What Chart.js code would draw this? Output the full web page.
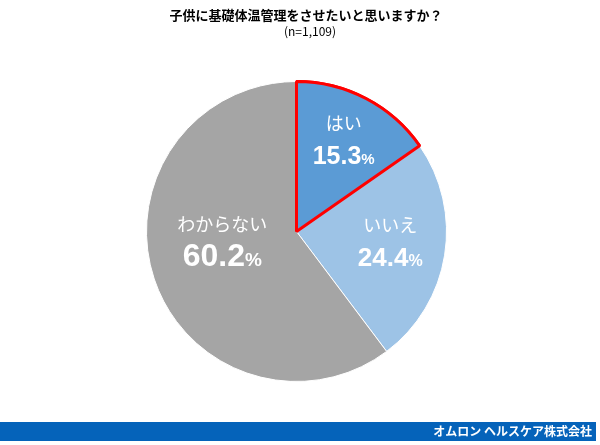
<!DOCTYPE html>
<html>
<head>
<meta charset="utf-8">
<script src="https://cdn.jsdelivr.net/npm/chart.js@4"></script>
<style>
  html, body { margin: 0; padding: 0; background: #fff; }
  #wrap { width: 600px; height: 445px; }
</style>
</head>
<body>
<div id="wrap"><canvas id="myChart" width="600" height="445"></canvas></div>
<script>
// chart data
const categories = ['はい', 'いいえ', 'わからない'];
const shares = [15.3, 24.4, 60.2];
const sliceColors = ['#5B9BD5', '#9DC3E6', '#A5A5A5'];
const titleText = '子供に基礎体温管理をさせたいと思いますか？';
const subtitleText = '(n=1,109)';
const footerText = 'オムロン ヘルスケア株式会社';

// label placement along each slice (fraction of radius, angle nudge in degrees)
const labelRadius = [0.68, 0.63, 0.5];
const labelNudge = [0, -2, 10];
const numberSize = [25, 26, 32];

const jpFont = '"Noto Sans CJK JP", "Noto Sans", sans-serif';
const numFont = '"Liberation Sans", Arial, sans-serif';

// titles, footer bar and slice labels
const decorPlugin = {
    id: 'decor',
    beforeDraw(chart) {
        const ctx = chart.ctx;
        ctx.save();
        ctx.fillStyle = '#fff';
        ctx.fillRect(0, 0, chart.width, chart.height);
        ctx.fillStyle = '#000';
        ctx.textAlign = 'center';
        ctx.textBaseline = 'middle';
        ctx.font = 'bold 13px ' + jpFont;
        ctx.fillText(titleText, 306, 15);
        ctx.font = '12px ' + jpFont;
        ctx.fillText(subtitleText, 310, 31);

        // footer bar
        ctx.fillStyle = '#0563BA';
        ctx.fillRect(0, 422, 596, 19);
        ctx.fillStyle = '#fff';
        ctx.textAlign = 'right';
        ctx.textBaseline = 'alphabetic';
        ctx.font = 'bold 12px ' + jpFont;
        ctx.fillText(footerText, 592, 436);
        ctx.restore();
    },
    afterDatasetsDraw(chart) {
        const ctx = chart.ctx;
        const meta = chart.getDatasetMeta(0);
        // redraw the first slice so its red outline sits on top
        meta.data[0].draw(ctx);

        ctx.save();
        ctx.fillStyle = '#fff';
        meta.data.forEach(function (arc, i) {
            const p = arc.getProps(['x', 'y', 'startAngle', 'endAngle', 'outerRadius'], true);
            const mid = (p.startAngle + p.endAngle) / 2 + labelNudge[i] * Math.PI / 180;
            const r = p.outerRadius * labelRadius[i];
            const cx = p.x + Math.cos(mid) * r;
            const cy = p.y + Math.sin(mid) * r;

            ctx.textAlign = 'center';
            ctx.textBaseline = 'middle';
            ctx.font = '18px ' + jpFont;
            ctx.fillText(categories[i], cx, cy - 18);

            // number plus smaller percent sign
            const num = shares[i].toFixed(1);
            const nSize = numberSize[i];
            const pSize = Math.round(nSize * 0.6);
            ctx.font = 'bold ' + nSize + 'px ' + numFont;
            const wNum = ctx.measureText(num).width;
            ctx.font = 'bold ' + pSize + 'px ' + numFont;
            const wPct = ctx.measureText('%').width;
            let x0 = cx - (wNum + wPct) / 2;
            const base = cy + 23;
            ctx.textAlign = 'left';
            ctx.textBaseline = 'alphabetic';
            ctx.font = 'bold ' + nSize + 'px ' + numFont;
            ctx.fillText(num, x0, base);
            ctx.font = 'bold ' + pSize + 'px ' + numFont;
            ctx.fillText('%', x0 + wNum, base);
        });
        ctx.restore();
    }
};

const ctx = document.getElementById('myChart').getContext('2d');
const chart = new Chart(ctx, {
    type: 'pie',
    data: {
        labels: categories,
        datasets: [{
            data: shares,
            backgroundColor: sliceColors,
            borderColor: ['#FF0000', '#FFFFFF', '#FFFFFF'],
            borderWidth: [3, 1, 1],
            hoverOffset: 0,
            hoverBorderWidth: [3, 1, 1]
        }]
    },
    options: {
        responsive: false,
        animation: false,
        layout: {
            padding: { left: 145, top: 80, right: 152, bottom: 62 }
        },
        plugins: {
            legend: { display: false },
            tooltip: { enabled: false },
            title: { display: false }
        }
    },
    plugins: [decorPlugin]
});
</script>
</body>
</html>
